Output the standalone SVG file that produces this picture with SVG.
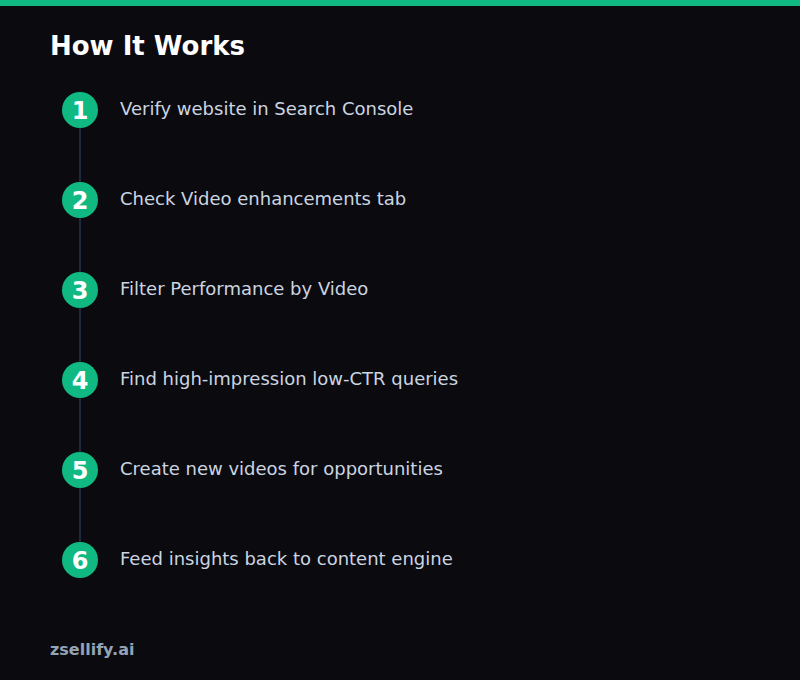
<svg xmlns="http://www.w3.org/2000/svg" width="800" height="680" viewBox="0 0 800 680">
<style>
.num{font-family:"DejaVu Sans",sans-serif;font-weight:bold;font-size:24px;fill:#ffffff;text-anchor:middle}
.lbl{font-family:"DejaVu Sans",sans-serif;font-size:18px;fill:#cbd5e1}
.dot{fill:#10b981}
.conn line{stroke:#1e293b;stroke-width:2}
</style>
<rect width="800" height="680" fill="#0b0b0f"/>
<rect width="800" height="6" fill="#10b981"/>
<text x="50" y="55" font-family="DejaVu Sans, sans-serif" font-weight="bold" font-size="26" fill="#ffffff">How It Works</text>
<g id="connectors" class="conn">
<line x1="80" y1="128" x2="80" y2="182"/>
<line x1="80" y1="218" x2="80" y2="272"/>
<line x1="80" y1="308" x2="80" y2="362"/>
<line x1="80" y1="398" x2="80" y2="452"/>
<line x1="80" y1="488" x2="80" y2="542"/>
</g>
<g id="step1"><circle class="dot" cx="80" cy="110" r="18"/><text class="num" x="80" y="119">1</text><text class="lbl" x="120" y="115">Verify website in Search Console</text></g>
<g id="step2"><circle class="dot" cx="80" cy="200" r="18"/><text class="num" x="80" y="209">2</text><text class="lbl" x="120" y="205">Check Video enhancements tab</text></g>
<g id="step3"><circle class="dot" cx="80" cy="290" r="18"/><text class="num" x="80" y="299">3</text><text class="lbl" x="120" y="295">Filter Performance by Video</text></g>
<g id="step4"><circle class="dot" cx="80" cy="380" r="18"/><text class="num" x="80" y="389">4</text><text class="lbl" x="120" y="385">Find high-impression low-CTR queries</text></g>
<g id="step5"><circle class="dot" cx="80" cy="470" r="18"/><text class="num" x="80" y="479">5</text><text class="lbl" x="120" y="475">Create new videos for opportunities</text></g>
<g id="step6"><circle class="dot" cx="80" cy="560" r="18"/><text class="num" x="80" y="569">6</text><text class="lbl" x="120" y="565">Feed insights back to content engine</text></g>
<text x="50" y="655" font-family="DejaVu Sans, sans-serif" font-weight="bold" font-size="16" fill="#94a3b8">zsellify.ai</text>
</svg>
